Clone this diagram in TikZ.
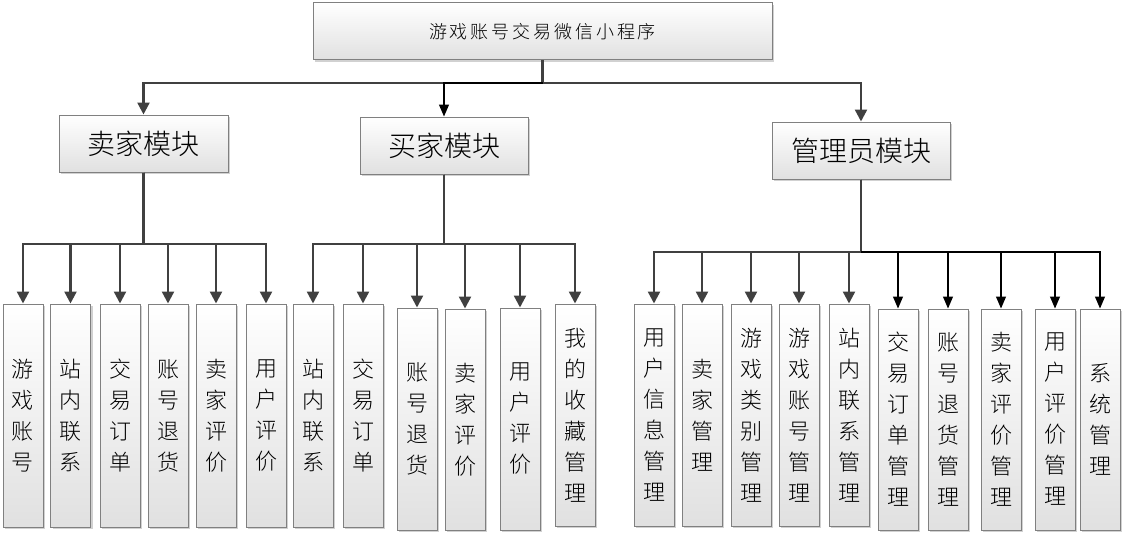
\documentclass[tikz,border=0pt]{standalone}
\usepackage{fontspec}
\setmainfont{Noto Sans CJK SC}[UprightFont=* Light]
\usepackage{xcolor}
\usepackage{tikz}
\usetikzlibrary{arrows.meta,shadows}
\definecolor{linegray}{HTML}{404040}
\definecolor{boxline}{HTML}{808080}
\tikzset{
  box/.style={draw=boxline,line width=1pt,top color=white,bottom color=black!12,inner sep=0pt,align=center,
              drop shadow={shadow xshift=2pt,shadow yshift=-2pt,fill=black!30,opacity=.6}},
  rootbox/.style={box,minimum width=459pt,minimum height=57pt,
              font=\fontsize{18}{20}\selectfont\addfontfeature{LetterSpace=16}},
  modbox/.style={box,minimum height=57pt,font=\fontsize{28}{30}\selectfont},
  leaf/.style={box,minimum width=40pt,font=\fontsize{22}{31}\selectfont},
  arr/.style={-{Triangle[length=12pt,width=12pt]},line width=2.4pt,linegray},
  arrb/.style={-{Triangle[length=12pt,width=10pt]},line width=1.2pt,black},
}
\begin{document}
\begin{tikzpicture}[x=1pt,y=-1pt]
\useasboundingbox (0,0) rectangle (1137,535);
\node[rootbox] (root) at (542.5,31.5) {游戏账号交易微信小程序};
\node[modbox,minimum width=169pt] (seller) at (143.5,143.5) {卖家模块};
\node[modbox,minimum width=168pt] (buyer) at (444,145.5) {买家模块};
\node[modbox,minimum width=178pt] (admin) at (861,150.5) {管理员模块};
\foreach \n/\cx/\ty/\by/\txt in {
  s1/23/304/527/{游\\戏\\账\\号}, s2/70.5/304/527/{站\\内\\联\\系},
  s3/120/304/527/{交\\易\\订\\单}, s4/168/304/527/{账\\号\\退\\货},
  s5/216/304/527/{卖\\家\\评\\价}, s6/266/304/527/{用\\户\\评\\价},
  b1/313/304/527/{站\\内\\联\\系}, b2/363/304/527/{交\\易\\订\\单},
  b3/417/308/530/{账\\号\\退\\货}, b4/465/309/530/{卖\\家\\评\\价},
  b5/520/308/530/{用\\户\\评\\价}, b6/575/304/526/{我\\的\\收\\藏\\管\\理},
  a1/654/304/526/{用\\户\\信\\息\\管\\理}, a2/702/304/526/{卖\\家\\管\\理},
  a3/751/304/526/{游\\戏\\类\\别\\管\\理}, a4/799/304/526/{游\\戏\\账\\号\\管\\理},
  a5/849/304/526/{站\\内\\联\\系\\管\\理}, a6/898/309/530/{交\\易\\订\\单\\管\\理},
  a7/948/309/530/{账\\号\\退\\货\\管\\理}, a8/1001/309/530/{卖\\家\\评\\价\\管\\理},
  a9/1055/309/530/{用\\户\\评\\价\\管\\理}, a10/1100/309/530/{系\\统\\管\\理}}
  \node[leaf,minimum height={(\by-\ty)*1pt}] (\n) at (\cx,{(\ty+\by)/2}) {\txt};
\coordinate (topbus) at (0,83);
\coordinate (sbus) at (0,244);
\coordinate (bbus) at (0,244);
\coordinate (abus) at (0,252);
\draw[arr] (root.south) -- (root.south |- topbus) -| (seller.north);
\draw[arr] (root.south |- topbus) -| (admin.north);
\draw[arrb] (root.south |- topbus) -| (buyer.north);
\foreach \i in {1,...,6}
  \draw[arr] (seller.south) -- (seller.south |- sbus) -| (s\i.north);
\foreach \i in {1,...,6}
  \draw[arr] (buyer.south) -- (buyer.south |- bbus) -| (b\i.north);
\foreach \i in {1,...,5}
  \draw[arr] (admin.south) -- (admin.south |- abus) -| (a\i.north);
\foreach \i in {6,...,10}
  \draw[arrb] (admin.south |- abus) -| (a\i.north);
\end{tikzpicture}
\end{document}
